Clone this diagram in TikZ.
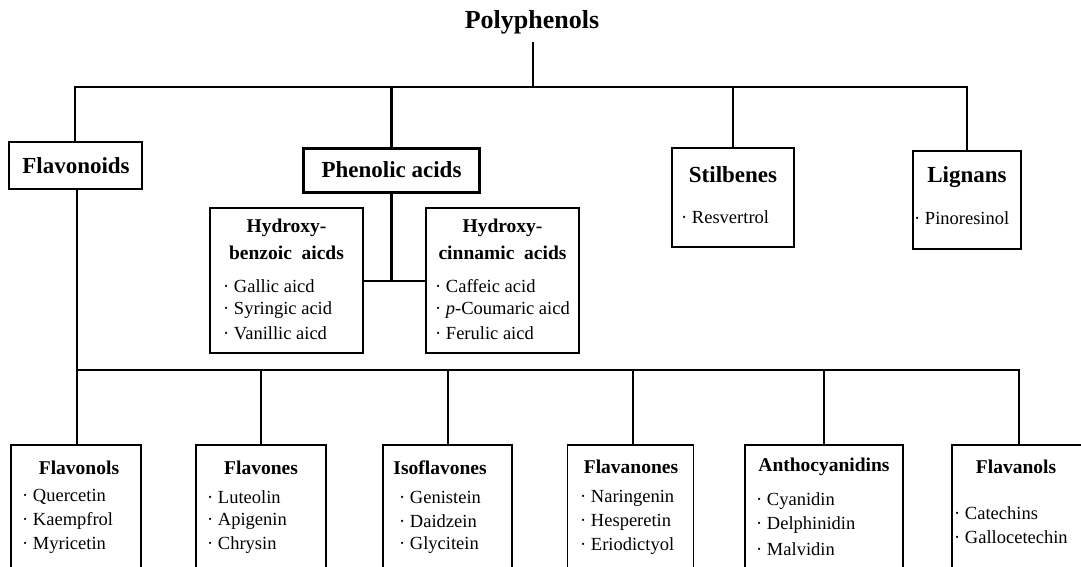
\documentclass[tikz,border=0pt]{standalone}
\usepackage{fontspec}
\setmainfont{Liberation Serif}
\begin{document}
\begin{tikzpicture}[x=1pt,y=-1pt,
  conn/.style={line width=2.6pt},
  box/.style={draw, line width=2.4pt, inner sep=0pt},
  sbox/.style={draw, line width=1.8pt, inner sep=0pt},
  ttl/.style={font=\fontsize{23}{26}\selectfont\bfseries, inner sep=0pt},
  sttl/.style={font=\fontsize{19.5}{23}\selectfont\bfseries, inner sep=0pt},
  itm/.style={font=\fontsize{18.5}{24}\selectfont, inner sep=0pt, anchor=west},
]
\clip (0,0) rectangle (1081,567);
\fill[white] (0,0) rectangle (1081,567);

% title
\node[font=\fontsize{26}{30}\selectfont\bfseries, inner sep=0pt] (poly) at (532,22) {Polyphenols};
\coordinate (ptop) at (533,42);
\coordinate (pbus) at (533,87);

% level 1 boxes
\node[box, minimum width=133, minimum height=47] (flavonoids) at (75.5,165.5) {};
\node[ttl] at (76,166) {Flavonoids};
\node[box, minimum width=176, minimum height=44] (phenolic) at (391.5,170.5) {};
\node[ttl] at (391.5,170) {Phenolic acids};
\node[box, minimum width=122, minimum height=99] (stilbenes) at (733,197.5) {};
\node[ttl] at (733,175) {Stilbenes};
\node[itm] at (681,217) {· Resvertrol};
\node[box, minimum width=108, minimum height=98] (lignans) at (967,200) {};
\node[ttl] at (967,177) {Lignans};
\node[itm] at (914,218) {· Pinoresinol};

% hydroxy boxes
\node[sbox, minimum width=153, minimum height=145] (hbenz) at (286.5,280.5) {};
\node[sttl] at (286.5,228) {Hydroxy-};
\node[sttl] at (286.5,253) {benzoic\ \ aicds};
\node[itm] at (223,286) {· Gallic aicd};
\node[itm] at (223,310) {· Syringic acid};
\node[itm] at (223,333) {· Vanillic aicd};
\node[sbox, minimum width=153, minimum height=145] (hcinn) at (502.5,280.5) {};
\node[sttl] at (502.5,228) {Hydroxy-};
\node[sttl] at (502.5,253) {cinnamic\ \ acids};
\node[itm] at (435,286) {· Caffeic acid};
\node[itm] at (435,310) {· \textit{p}-Coumaric aicd};
\node[itm] at (435,333) {· Ferulic aicd};

% bottom boxes
\node[sbox, minimum width=130, minimum height=170] (flavonols) at (76,530) {};
\node[sttl] at (79,468) {Flavonols};
\node[itm] at (22,497) {· Quercetin};
\node[itm] at (22,521) {· Kaempfrol};
\node[itm] at (22,545) {· Myricetin};
\node[sbox, minimum width=130, minimum height=170] (flavones) at (261,530) {};
\node[sttl] at (261,468) {Flavones};
\node[itm] at (207,497) {· Luteolin};
\node[itm] at (207,521) {· Apigenin};
\node[itm] at (207,545) {· Chrysin};
\node[sbox, minimum width=129, minimum height=170] (isoflavones) at (447.5,530) {};
\node[sttl] at (440,468) {Isoflavones};
\node[itm] at (399,497) {· Genistein};
\node[itm] at (399,521) {· Daidzein};
\node[itm] at (399,545) {· Glycitein};
\node[sbox, minimum width=126, minimum height=170] (flavanones) at (630.5,530) {};
\node[sttl] at (631,467) {Flavanones};
\node[itm] at (580,498) {· Naringenin};
\node[itm] at (580,522) {· Hesperetin};
\node[itm] at (580,546) {· Eriodictyol};
\node[sbox, minimum width=158, minimum height=170] (antho) at (824,530) {};
\node[sttl] at (824,467) {Anthocyanidins};
\node[itm] at (756,501) {· Cyanidin};
\node[itm] at (756,525) {· Delphinidin};
\node[itm] at (756,549) {· Malvidin};
\node[sbox, minimum width=134, minimum height=170] (flavanols) at (1019,530) {};
\node[sttl] at (1016,467) {Flavanols};
\node[itm] at (954,513) {· Catechins};
\node[itm] at (954,537) {· Gallocetechin};

% connectors top
\draw[conn] (ptop) -- (pbus);
\draw[conn] (flavonoids.north -| 75,0) |- (stilbenes.north |- pbus) -- (lignans.north |- pbus) -- (lignans.north);
\draw[conn] (phenolic.north) -- (phenolic.north |- pbus);
\draw[conn] (stilbenes.north) -- (stilbenes.north |- pbus);

% phenolic to hydroxy
\coordinate (pj) at (391.5,281);
\draw[conn] (phenolic.south) -- (pj);
\draw[line width=2.2pt] (hbenz.east |- pj) -- (hcinn.west |- pj);

% flavonoid bus
\coordinate (fbus) at (77,370);
\draw[conn] (77,189) -- (fbus) -- (1019,370) -- (flavanols.north);
\draw[conn] (fbus) -- (77,445);
\draw[conn] (261,370) -- (flavones.north);
\draw[conn] (448,370) -- (448,445);
\draw[conn] (633,370) -- (633,445);
\draw[conn] (824,370) -- (antho.north);
\end{tikzpicture}
\end{document}
